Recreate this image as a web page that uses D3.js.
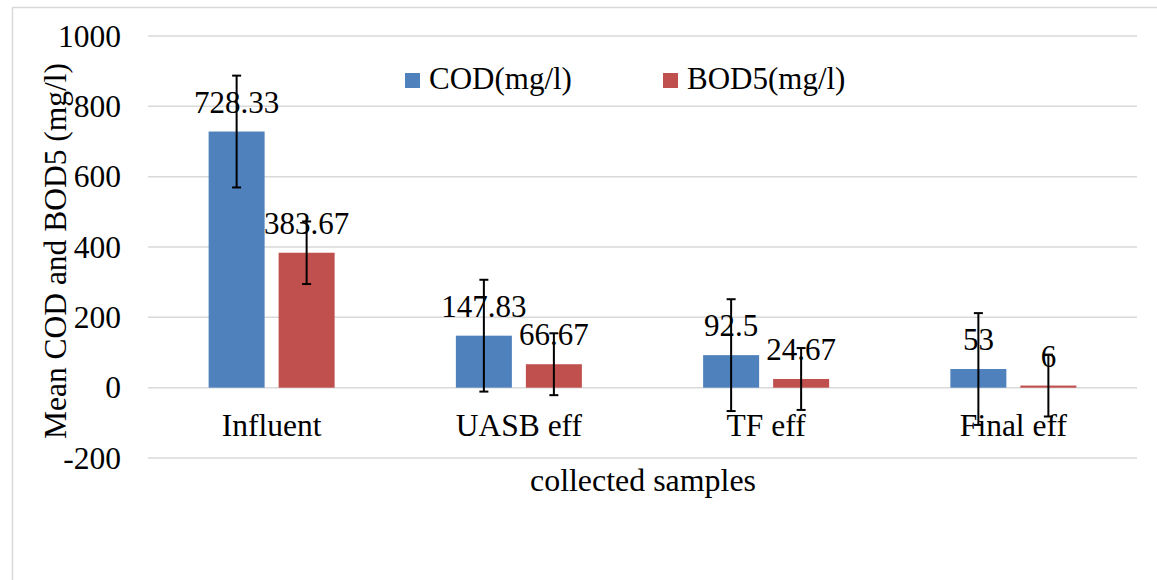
<!DOCTYPE html>
<html>
<head>
<meta charset="utf-8">
<script src="https://cdn.jsdelivr.net/npm/d3@7"></script>
<style>
  html, body { margin: 0; padding: 0; background: #fff; }
  svg { display: block; }
</style>
</head>
<body>
<svg id="chart" width="1157" height="580"></svg>
<script>
const categories = ["Influent", "UASB eff", "TF eff", "Final eff"];
const seriesNames = ["COD(mg/l)", "BOD5(mg/l)"];
const codValues = [728.33, 147.83, 92.5, 53];
const bodValues = [383.67, 66.67, 24.67, 6];
const codLabels = ["728.33", "147.83", "92.5", "53"];
const bodLabels = ["383.67", "66.67", "24.67", "6"];
const codErrors = [159, 159, 159, 159];
const bodErrors = [89, 88, 88, 88];
const yTicks = [-200, 0, 200, 400, 600, 800, 1000];
const colors = ["#4F81BD", "#C0504D"];

const FONT = '"Liberation Serif", "Times New Roman", serif';

const series = [
  { name: seriesNames[0], values: codValues, labels: codLabels, errors: codErrors, color: colors[0] },
  { name: seriesNames[1], values: bodValues, labels: bodLabels, errors: bodErrors, color: colors[1] }
];

const svg = d3.select("#chart");
const plotLeft = 148, plotRight = 1137, plotTop = 36, plotBottom = 458;

// outer chart border (top & left visible)
svg.append("rect").attr("x", 12.5).attr("y", 7.5).attr("width", 1200).attr("height", 640)
  .attr("fill", "none").attr("stroke", "#D9D9D9").attr("stroke-width", 1.5);

const y = d3.scaleLinear().domain([-200, 1000]).range([plotBottom, plotTop]);
const x0 = d3.scaleBand().domain(categories).range([plotLeft, plotRight]);
const groupWidth = 126;
const x1 = d3.scaleBand().domain(seriesNames).range([0, groupWidth]).paddingInner(0.2).paddingOuter(0);

// gridlines
svg.append("g").selectAll("line").data(yTicks).join("line")
  .attr("x1", plotLeft).attr("x2", plotRight)
  .attr("y1", d => y(d)).attr("y2", d => y(d))
  .attr("stroke", "#D9D9D9").attr("stroke-width", 1.5);

// y axis tick labels
const yAxis = d3.axisLeft(y).tickValues(yTicks).tickSize(0).tickPadding(0).tickFormat(d => String(d));
const yg = svg.append("g").attr("transform", "translate(121,0)").call(yAxis);
yg.select(".domain").remove();
yg.selectAll("text").style("font-size", "31.5px").style("font-family", FONT).attr("fill", "#000");

// bars
const groups = svg.append("g").selectAll("g").data(categories).join("g")
  .attr("transform", d => `translate(${x0(d) + x0.bandwidth() / 2 - groupWidth / 2},0)`);

series.forEach((s) => {
  groups.append("rect")
    .attr("x", x1(s.name))
    .attr("width", x1.bandwidth())
    .attr("y", (d, i) => y(Math.max(0, s.values[i])))
    .attr("height", (d, i) => Math.abs(y(s.values[i]) - y(0)))
    .attr("fill", s.color);
});

// error bars
series.forEach((s) => {
  const cx = x1(s.name) + x1.bandwidth() / 2;
  groups.each(function (d, i) {
    const g = d3.select(this);
    const top = y(s.values[i] + s.errors[i]);
    const bot = y(s.values[i] - s.errors[i]);
    g.append("line").attr("x1", cx).attr("x2", cx).attr("y1", top).attr("y2", bot)
      .attr("stroke", "#000").attr("stroke-width", 2);
    [top, bot].forEach(yy => {
      g.append("line").attr("x1", cx - 4.5).attr("x2", cx + 4.5).attr("y1", yy).attr("y2", yy)
        .attr("stroke", "#000").attr("stroke-width", 2);
    });
  });
});

// data labels
series.forEach((s) => {
  const cx = x1(s.name) + x1.bandwidth() / 2;
  groups.append("text")
    .attr("x", cx)
    .attr("y", (d, i) => y(s.values[i]) - 19)
    .attr("text-anchor", "middle")
    .style("font-family", FONT).style("font-size", "31px")
    .attr("fill", "#000")
    .text((d, i) => s.labels[i]);
});

// category labels
const xAxis = d3.axisBottom(x0).tickSize(0).tickPadding(0);
const xg = svg.append("g").call(xAxis);
xg.select(".domain").remove();
xg.selectAll("text").attr("y", 436).attr("dy", null)
  .style("font-size", "31.5px").style("font-family", FONT).attr("fill", "#000");

// axis titles
svg.append("text").attr("x", 643).attr("y", 491).attr("text-anchor", "middle")
  .style("font-family", FONT).style("font-size", "31px")
  .attr("textLength", 226).attr("lengthAdjust", "spacingAndGlyphs")
  .text("collected samples");

svg.append("text").attr("transform", "translate(66,251) rotate(-90)")
  .attr("text-anchor", "middle").style("font-family", FONT).style("font-size", "31.5px")
  .text("Mean COD and BOD5 (mg/l)");

// legend
const legendX = [405, 663];
series.forEach((s, i) => {
  svg.append("rect").attr("x", legendX[i]).attr("y", 73).attr("width", 15).attr("height", 15).attr("fill", s.color);
  svg.append("text").attr("x", legendX[i] + 24).attr("y", 89)
    .style("font-family", FONT).style("font-size", "31px").text(s.name);
});
</script>
</body>
</html>
